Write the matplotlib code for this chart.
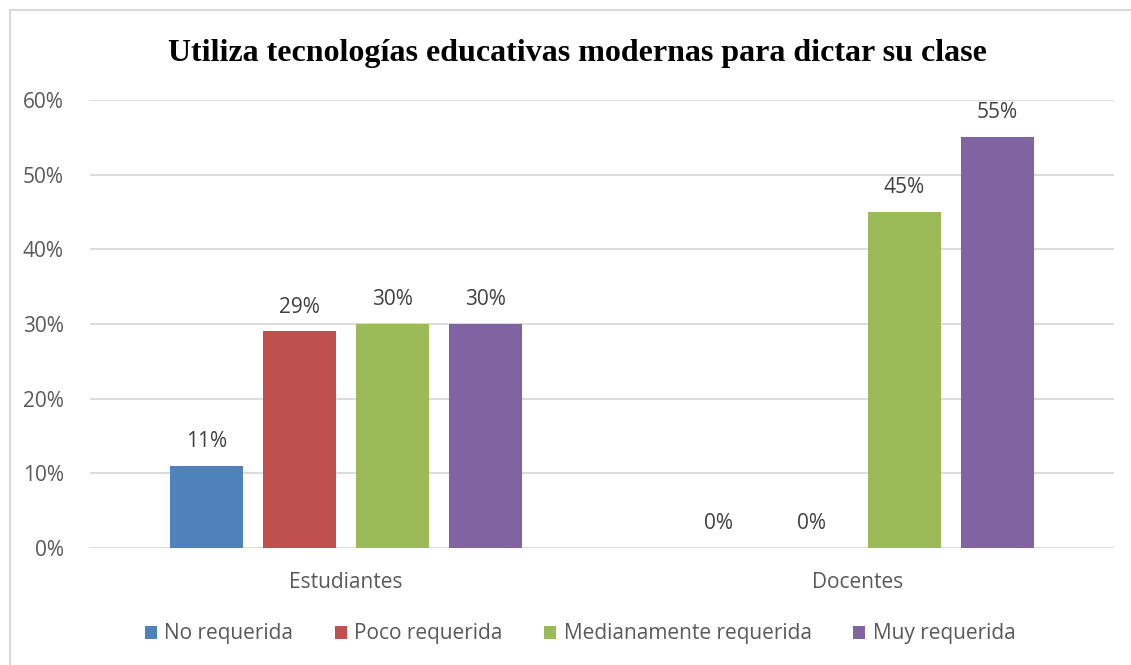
import matplotlib.pyplot as plt
import matplotlib.patches as mpatches
import numpy as np

grupos = ["Estudiantes", "Docentes"]
series = ["No requerida", "Poco requerida", "Medianamente requerida", "Muy requerida"]
valores = [
    [0.11, 0.00],
    [0.29, 0.00],
    [0.30, 0.45],
    [0.30, 0.55],
]
colores = ["#4F81BD", "#C0504D", "#9BBB59", "#8064A2"]

fuente = "Open Sans"
gris = "#595959"

fig = plt.figure(figsize=(11.31, 6.65), dpi=100)
ax = fig.add_axes([90 / 1131, 117 / 665, 1024 / 1131, 448 / 665])

x = np.arange(len(grupos))
ancho = 0.1426
paso = 0.1816
for i, (nombre, vals, c) in enumerate(zip(series, valores, colores)):
    pos = x + (i - 1.5) * paso
    barras = ax.bar(pos, vals, ancho, color=c, label=nombre, zorder=3)
    for b, v in zip(barras, vals):
        ax.annotate(f"{v:.0%}", (b.get_x() + b.get_width() / 2, v),
                    xytext=(0, 10), textcoords="offset points",
                    ha="center", va="bottom", fontsize=15, color="#404040",
                    family=fuente)

ax.set_xlim(-0.5, 1.5)
ax.set_ylim(0, 0.6)
ax.set_yticks(np.arange(0, 0.61, 0.1))
ax.set_yticklabels([f"{t:.0%}" for t in np.arange(0, 0.61, 0.1)],
                   fontsize=15, color=gris, family=fuente)
ax.set_xticks(x)
ax.set_xticklabels(grupos, fontsize=15, color=gris, family=fuente)
ax.tick_params(axis="both", length=0)
ax.tick_params(axis="y", pad=19)
ax.tick_params(axis="x", pad=17)
ax.grid(axis="y", color="#D9D9D9", linewidth=1.3, zorder=0)
for s in ax.spines.values():
    s.set_visible(False)

fig.suptitle("Utiliza tecnologías educativas modernas para dictar su clase",
             x=577 / 1131, y=1 - 53 / 665, va="center",
             fontsize=23, fontweight="bold", family="Liberation Serif")

leg = fig.legend(loc="center", bbox_to_anchor=(580 / 1131, 1 - 634 / 665),
                 ncol=4, frameon=False, handlelength=0.58, handleheight=0.58,
                 handletextpad=0.35, columnspacing=2.0,
                 prop={"family": fuente, "size": 15})
for t in leg.get_texts():
    t.set_color(gris)

borde = mpatches.Rectangle((10 / 1131, -0.1), 1.2, 1 - 10 / 665 + 0.1,
                           transform=fig.transFigure, fill=False,
                           edgecolor="#D9D9D9", linewidth=1.5)
fig.patches.append(borde)

fig.savefig("out.png", dpi=100)
